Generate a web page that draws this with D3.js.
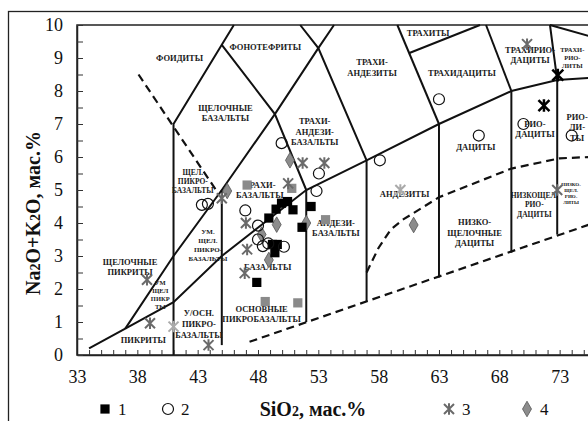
<!DOCTYPE html>
<html lang="ru">
<head>
<meta charset="utf-8">
<title>TAS</title>
<script src="https://cdn.jsdelivr.net/npm/d3@7"></script>
<style>
  body { margin: 0; background: #fff; }
  text { font-family: "Liberation Serif", "Times New Roman", serif; }
</style>
</head>
<body>
<script>
// ---- data ----
var xTickLabels = [33, 38, 43, 48, 53, 58, 63, 68, 73];
var yTickLabels = [0, 1, 2, 3, 4, 5, 6, 7, 8, 9, 10];

// 1 - black squares
var series1 = [[48.9,4.15],[49.5,4.42],[49.95,4.6],[50.45,4.65],[50.9,4.4],[52.4,4.5],
               [49.2,3.35],[49.6,3.35],[49.4,3.1],[47.9,2.2],[51.65,3.87]];
var series1Gray = [[47.1,5.15],[50.8,5.05],[53.6,4.1],[48.6,1.62],[51.3,1.58]];
// 2 - open circles
var series2 = [[43.35,4.55],[43.85,4.58],[46.95,4.38],[48.0,3.92],[48.0,3.5],[48.4,3.3],
               [48.85,3.38],[50.15,3.28],[49.96,6.42],[53.05,5.5],[52.85,4.97],[58.1,5.9],
               [63.0,7.75],[66.3,6.65],[70.0,7.0],[74.0,6.65]];
// 3 - asterisks
var series3 = [[38.8,2.28],[39.05,0.96],[43.9,0.3],[45.0,4.75],[47.0,4.0],[47.1,3.2],
               [46.9,2.48],[50.5,5.2],[51.7,5.82],[53.5,5.82],[70.3,9.42],[72.8,5.0]];
var series3Light = [[41.0,0.86],[59.8,5.0]];
var series3Dark = [[72.85,8.48],[71.7,7.56]];
// 4 - grey diamonds
var series4 = [[45.45,4.97],[50.65,5.9],[48.3,3.65],[49.55,3.95],[48.9,2.88],[52.0,4.0],[60.9,3.94]];

// field boundaries (SiO2, Na2O+K2O)
var solidLines = [
  [[34,0.2],[37,0.8],[41,1.6],[45,3],[52,5],[57,5.9],[63,7],[69,8],[72.8,8.33],[75.6,8.4]],
  [[37,0.8],[41,3],[45,5],[49.4,7.3],[53,9.3],[54.3,10]],
  [[41,0],[41,7],[45,9.4],[46,10]],
  [[45,9.4],[49.4,7.3],[52,5]],
  [[51.5,10],[53,9.3],[57,5.9]],
  [[45,0.3],[45,5]],
  [[52,1.0],[52,5]],
  [[57,1.62],[57,5.9]],
  [[63,2.35],[63,7]],
  [[69,3.1],[69,8]],
  [[59.55,10],[63,7]],
  [[66.9,10],[69,8]],
  [[60.55,9.15],[66.4,10]],
  [[72.2,10],[72.8,8.33],[72.8,3.65]],
  [[72.2,10],[75.6,9.65]]
];
var dashedLines = [
  [[38.1,8.5],[44.7,4.9]],
  [[47.3,0.4],[75.6,3.97]],
  [[57,2.5],[58,3.25],[59,3.8],[60,4.1],[63,4.78],[69,5.65],[73,5.96],[75.6,6.0]]
];

var fieldLabels = [
  {t:["ФОИДИТЫ"], x:41.5, y:9.0, s:8.5},
  {t:["ФОНОТЕФРИТЫ"], x:48.6, y:9.34, s:8.5},
  {t:["ЩЕЛОЧНЫЕ","БАЗАЛЬТЫ"], x:45.3, y:7.33, s:8.5},
  {t:["ТРАХИ-","АНДЕЗИТЫ"], x:57.45, y:8.71, s:8.5},
  {t:["ТРАХИТЫ"], x:62.1, y:9.76, s:8.5},
  {t:["ТРАХИДАЦИТЫ"], x:64.9, y:8.55, s:8.5},
  {t:["ТРАХИРИО-","ДАЦИТЫ"], x:70.55, y:9.09, s:8.5},
  {t:["ТРАХИ-","РИО-","ЛИТЫ"], x:74.05, y:9.0, s:6.5},
  {t:["ТРАХИ-","АНДЕЗИ-","БАЗАЛЬТЫ"], x:52.7, y:6.77, s:8.5},
  {t:["ДАЦИТЫ"], x:66.05, y:6.3, s:8.5},
  {t:["РИО-","ДАЦИТЫ"], x:70.95, y:6.85, s:8.5},
  {t:["РИО-","ЛИ-","ТЫ"], x:74.45, y:6.9, s:8.5},
  {t:["АНДЕЗИТЫ"], x:60.15, y:4.88, s:8.5},
  {t:["НИЗКО-","ЩЕЛОЧНЫЕ","ДАЦИТЫ"], x:65.95, y:3.71, s:8.5},
  {t:["НИЗКОЩЕЛ.","РИО-","ДАЦИТЫ"], x:70.9, y:4.55, s:7.5},
  {t:["НИЗКО-","ЩЕЛ.","РИО-","ЛИТЫ"], x:73.95, y:4.9, s:5},
  {t:["АНДЕЗИ-","БАЗАЛЬТЫ"], x:54.45, y:3.85, s:8.5},
  {t:["ТРАХИ-","БАЗАЛЬТЫ"], x:48.15, y:5.0, s:8.5},
  {t:["БАЗАЛЬТЫ"], x:48.8, y:2.67, s:8.5},
  {t:["ОСНОВНЫЕ","ПИКРОБАЗАЛЬТЫ"], x:48.3, y:1.24, s:8.5},
  {t:["ЩЕЛ.","ПИКРО-","БАЗАЛЬТЫ"], x:42.6, y:5.26, s:7.5},
  {t:["УМ.","ЩЕЛ.","ПИКРО-","БАЗАЛЬТЫ"], x:43.85, y:3.33, s:7},
  {t:["ЩЕЛОЧНЫЕ","ПИКРИТЫ"], x:37.4, y:2.67, s:8.5},
  {t:["УМ","ЩЕЛ","ПИКР","ТЫ"], x:39.9, y:1.82, s:6.5},
  {t:["У/ОСН.","ПИКРО-","БАЗАЛЬТЫ"], x:43.1, y:0.94, s:8.5},
  {t:["ПИКРИТЫ"], x:38.5, y:0.45, s:8.5}
];

// ---- drawing ----
var w = 588, h = 421;
var plotL = 77, plotR = 591, plotT = 25, plotB = 355;

var svg = d3.select("body").append("svg")
  .attr("width", w).attr("height", h);

svg.append("rect").attr("width", w).attr("height", h).attr("fill", "#fff");
// outer frame
svg.append("rect").attr("x", 8.5).attr("y", 11.5).attr("width", 600).attr("height", 420)
  .attr("fill", "none").attr("stroke", "#222").attr("stroke-width", 1.3);

var xScale = d3.scaleLinear().domain([33, 75.6]).range([plotL, plotR]);
var yScale = d3.scaleLinear().domain([0, 10]).range([plotB, plotT]);

var line = d3.line()
  .x(function(d) { return xScale(d[0]); })
  .y(function(d) { return yScale(d[1]); });

// plot frame
svg.append("rect").attr("x", plotL).attr("y", plotT)
  .attr("width", plotR - plotL).attr("height", plotB - plotT)
  .attr("fill", "none").attr("stroke", "#222").attr("stroke-width", 1.5);

// axes
var xAxis = d3.axisBottom(xScale)
  .tickValues(d3.range(33, 76, 1))
  .tickSizeInner(-5).tickSizeOuter(0).tickPadding(15)
  .tickFormat(function(d) { return xTickLabels.indexOf(d) >= 0 ? d : ""; });
var yAxis = d3.axisLeft(yScale)
  .tickValues(d3.range(0, 10.01, 0.5))
  .tickSizeInner(-6).tickSizeOuter(0).tickPadding(14)
  .tickFormat(function(d) { return yTickLabels.indexOf(d) >= 0 ? d : ""; });

var gx = svg.append("g").attr("transform", "translate(0," + plotB + ")").call(xAxis);
var gy = svg.append("g").attr("transform", "translate(" + plotL + ",0)").call(yAxis);
[gx, gy].forEach(function(g) {
  g.select(".domain").attr("stroke", "#222").attr("stroke-width", 1.5);
  g.selectAll(".tick line").attr("stroke", "#333").attr("stroke-width", 1);
  g.selectAll(".tick text").attr("font-size", 18)
    .attr("font-family", "Liberation Serif, serif").attr("fill", "#111");
});

// field boundaries
svg.append("g").selectAll("path").data(solidLines).enter().append("path")
  .attr("d", line).attr("fill", "none").attr("stroke", "#111").attr("stroke-width", 2);
svg.append("g").selectAll("path").data(dashedLines).enter().append("path")
  .attr("d", line).attr("fill", "none").attr("stroke", "#111")
  .attr("stroke-width", 2.2).attr("stroke-dasharray", "8,5");

// field labels
var lab = svg.append("g").selectAll("text").data(fieldLabels).enter().append("text")
  .attr("text-anchor", "middle")
  .attr("font-weight", "bold")
  .attr("fill", "#1a1a1a")
  .attr("font-size", function(d) { return d.s; })
  .attr("transform", function(d) {
    var n = d.t.length, lh = d.s * 1.25;
    return "translate(" + xScale(d.x) + "," + (yScale(d.y) - (n - 1) * lh / 2 + d.s * 0.35) + ")";
  });
lab.selectAll("tspan").data(function(d) {
    return d.t.map(function(s, i) { return {s: s, i: i, lh: d.s * 1.25}; });
  }).enter().append("tspan")
  .attr("x", 0)
  .attr("y", function(d) { return d.i * d.lh; })
  .text(function(d) { return d.s; });

// markers
function asterisk(s) {
  return "M" + (-s) + "," + (-s) + "L" + s + "," + s +
         "M" + (-s) + "," + s + "L" + s + "," + (-s) +
         "M0," + (-s * 1.15) + "L0," + (s * 1.15);
}
var sq = d3.symbol().type(d3.symbolSquare).size(85);
var dia = d3.symbol().type(d3.symbolDiamond).size(70);

function pos(d) { return "translate(" + xScale(d[0]) + "," + yScale(d[1]) + ")"; }

var pts = svg.append("g");
pts.selectAll(".s3l").data(series3Light).enter().append("path")
  .attr("transform", pos).attr("d", asterisk(5))
  .attr("stroke", "#aaa").attr("stroke-width", 2).attr("fill", "none");
pts.selectAll(".s1g").data(series1Gray).enter().append("path")
  .attr("transform", pos).attr("d", sq()).attr("fill", "#8a8a8a");
pts.selectAll(".s4").data(series4).enter().append("path")
  .attr("transform", pos).attr("d", dia())
  .attr("fill", "#8c8c8c").attr("stroke", "#555").attr("stroke-width", 0.8);
pts.selectAll(".s3").data(series3).enter().append("path")
  .attr("transform", pos).attr("d", asterisk(5))
  .attr("stroke", "#6a6a6a").attr("stroke-width", 2).attr("fill", "none");
pts.selectAll(".s1").data(series1).enter().append("path")
  .attr("transform", pos).attr("d", sq()).attr("fill", "#000");
pts.selectAll(".s2").data(series2).enter().append("circle")
  .attr("cx", function(d) { return xScale(d[0]); })
  .attr("cy", function(d) { return yScale(d[1]); })
  .attr("r", 5.5).attr("fill", "none").attr("stroke", "#111").attr("stroke-width", 1.2);
pts.selectAll(".s3d").data(series3Dark).enter().append("path")
  .attr("transform", pos).attr("d", asterisk(5.5))
  .attr("stroke", "#000").attr("stroke-width", 2.5).attr("fill", "none");

// axis titles
var yt = svg.append("text")
  .attr("transform", "translate(40,213) rotate(-90)")
  .attr("text-anchor", "middle").attr("font-weight", "bold")
  .attr("font-size", 20).attr("fill", "#111");
yt.append("tspan").text("Na");
yt.append("tspan").attr("font-size", 14).text("2");
yt.append("tspan").text("O+K");
yt.append("tspan").attr("font-size", 14).text("2");
yt.append("tspan").text("O, мас.%");

var xt = svg.append("text")
  .attr("x", 313).attr("y", 416)
  .attr("text-anchor", "middle").attr("font-weight", "bold")
  .attr("font-size", 20).attr("fill", "#111");
xt.append("tspan").text("SiO");
xt.append("tspan").attr("font-size", 14).text("2");
xt.append("tspan").text(", мас.%");

// legend
var lg = svg.append("g").attr("font-size", 17).attr("fill", "#111");
lg.append("path").attr("transform", "translate(105,409)").attr("d", sq()).attr("fill", "#000");
lg.append("text").attr("x", 118).attr("y", 415).text("1");
lg.append("circle").attr("cx", 168).attr("cy", 409).attr("r", 5.5)
  .attr("fill", "none").attr("stroke", "#111").attr("stroke-width", 1.2);
lg.append("text").attr("x", 181).attr("y", 415).text("2");
lg.append("path").attr("transform", "translate(449,409)").attr("d", asterisk(5))
  .attr("stroke", "#6a6a6a").attr("stroke-width", 2).attr("fill", "none");
lg.append("text").attr("x", 462).attr("y", 415).text("3");
lg.append("path").attr("transform", "translate(527,409)").attr("d", dia())
  .attr("fill", "#8c8c8c").attr("stroke", "#555").attr("stroke-width", 0.8);
lg.append("text").attr("x", 540).attr("y", 415).text("4");
</script>
</body>
</html>
